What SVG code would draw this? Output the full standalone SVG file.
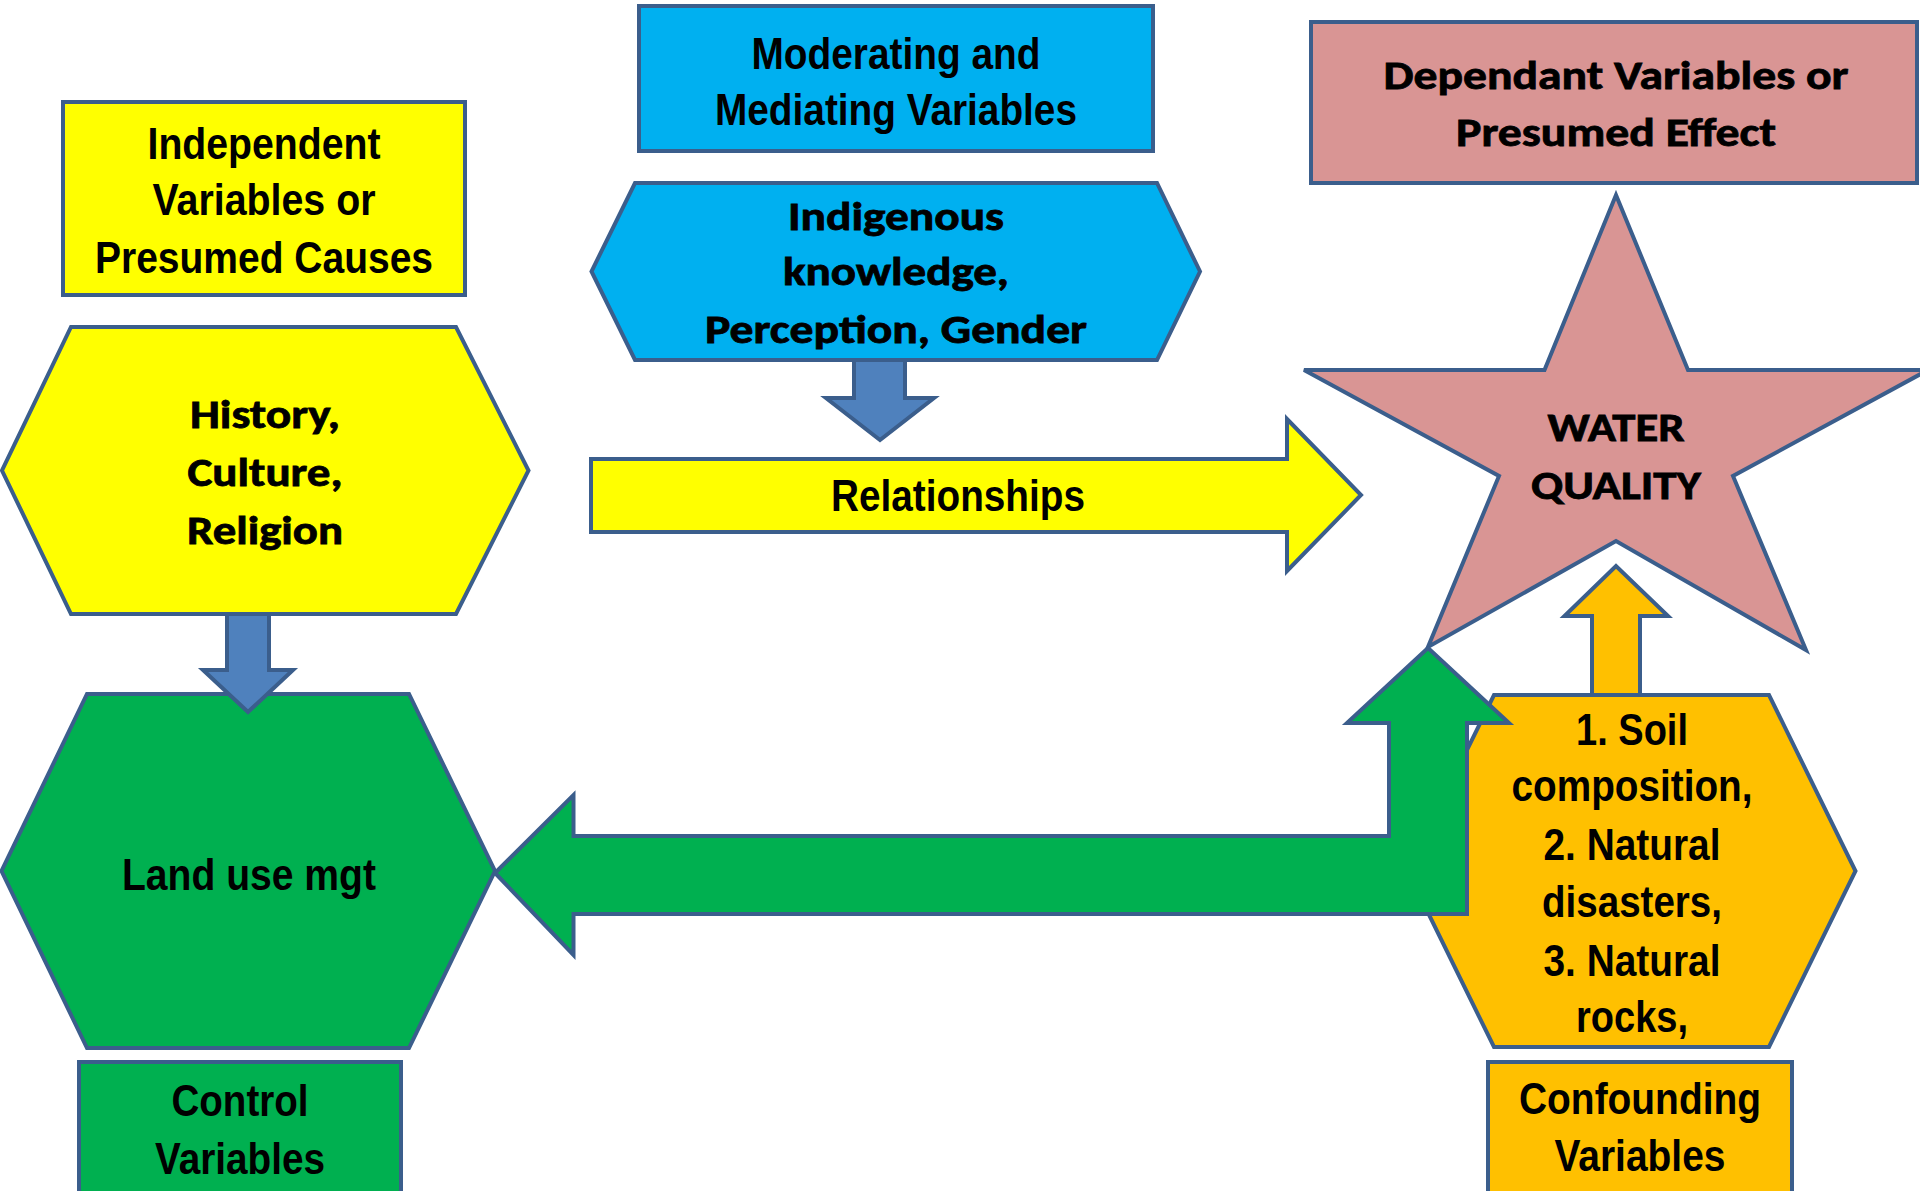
<svg xmlns="http://www.w3.org/2000/svg" width="1920" height="1191" viewBox="0 0 1920 1191">
<defs>
<style>
.sh{stroke:#3B5E8C;stroke-width:4;stroke-linejoin:miter}
.yel{fill:#FFFF00}
.blu{fill:#00B0F0}
.grn{fill:#00B050}
.org{fill:#FFC000}
.pnk{fill:#D99594}
.arw{fill:#4F81BD}
.nar{font-family:"Liberation Sans Narrow","Liberation Sans",Arial,sans-serif;font-weight:bold;font-size:45px;fill:#000;text-anchor:middle}
.cal{font-family:Carlito,Lato,"Open Sans",sans-serif;font-weight:bold;font-size:41px;fill:#000;stroke:#000;stroke-width:0.8;text-anchor:middle}
</style>
</defs>
<rect width="1920" height="1191" fill="#FFFFFF"/>
<g id="nodes">
<g id="independent-label">
<rect class="sh yel" x="63" y="102" width="402" height="193"/>
<text class="nar" x="264" y="159" textLength="233" lengthAdjust="spacingAndGlyphs">Independent</text>
<text class="nar" x="264" y="215" textLength="223" lengthAdjust="spacingAndGlyphs">Variables or</text>
<text class="nar" x="264" y="273" textLength="338" lengthAdjust="spacingAndGlyphs">Presumed Causes</text>
</g>
<g id="history">
<polygon class="sh yel" points="71,327 456,327 528.5,470.5 456,614 71,614 2,470.5"/>
<text class="cal" x="265" y="428" textLength="150" lengthAdjust="spacingAndGlyphs">History,</text>
<text class="cal" x="265" y="486" textLength="155" lengthAdjust="spacingAndGlyphs">Culture,</text>
<text class="cal" x="265" y="544" textLength="156" lengthAdjust="spacingAndGlyphs">Religion</text>
</g>
<g id="moderating-label">
<rect class="sh blu" x="639" y="6" width="514" height="145"/>
<text class="nar" x="896" y="69" textLength="289" lengthAdjust="spacingAndGlyphs">Moderating and</text>
<text class="nar" x="896" y="125" textLength="362" lengthAdjust="spacingAndGlyphs">Mediating Variables</text>
</g>
<g id="indigenous">
<polygon class="sh blu" points="635,183 1157,183 1200,271.5 1157,360 635,360 591.5,271.5"/>
<text class="cal" x="896" y="230" font-size="42" textLength="216" lengthAdjust="spacingAndGlyphs">Indigenous</text>
<text class="cal" x="896" y="285" font-size="42" textLength="226" lengthAdjust="spacingAndGlyphs">knowledge,</text>
<text class="cal" x="896" y="343" font-size="42" textLength="382" lengthAdjust="spacingAndGlyphs">Perception, Gender</text>
</g>
<g id="dependant-label">
<rect class="sh pnk" x="1311" y="22" width="606" height="161"/>
<text class="cal" x="1616" y="89" font-size="44" textLength="465" lengthAdjust="spacingAndGlyphs">Dependant Variables or</text>
<text class="cal" x="1616" y="146" font-size="44" textLength="320" lengthAdjust="spacingAndGlyphs">Presumed Effect</text>
</g>
<g id="water-quality">
<polygon class="sh pnk" points="1616,195 1688,370 1928,370 1733,476 1806,650 1616,541 1428,647 1499,476 1304,370 1544.5,370"/>
<text class="cal" x="1616" y="441" textLength="137" lengthAdjust="spacingAndGlyphs">WATER</text>
<text class="cal" x="1616" y="499" textLength="170" lengthAdjust="spacingAndGlyphs">QUALITY</text>
</g>
<g id="land-use">
<polygon class="sh grn" points="87,694 409,694 495,871 409,1048 87,1048 1.5,871"/>
<text class="nar" x="249" y="890" textLength="254" lengthAdjust="spacingAndGlyphs">Land use mgt</text>
</g>
<g id="control-label">
<rect class="sh grn" x="79" y="1062" width="322" height="140"/>
<text class="nar" x="240" y="1116" textLength="137" lengthAdjust="spacingAndGlyphs">Control</text>
<text class="nar" x="240" y="1174" textLength="170" lengthAdjust="spacingAndGlyphs">Variables</text>
</g>
<g id="confounders">
<polygon class="sh org" points="1494,695 1769,695 1855.5,871 1769,1047 1494,1047 1407.5,871"/>
<text class="nar" x="1632" y="745" textLength="112" lengthAdjust="spacingAndGlyphs">1. Soil</text>
<text class="nar" x="1632" y="801" textLength="241" lengthAdjust="spacingAndGlyphs">composition,</text>
<text class="nar" x="1632" y="860" textLength="177" lengthAdjust="spacingAndGlyphs">2. Natural</text>
<text class="nar" x="1632" y="917" textLength="180" lengthAdjust="spacingAndGlyphs">disasters,</text>
<text class="nar" x="1632" y="976" textLength="177" lengthAdjust="spacingAndGlyphs">3. Natural</text>
<text class="nar" x="1632" y="1032" textLength="112" lengthAdjust="spacingAndGlyphs">rocks,</text>
</g>
<g id="confounding-label">
<rect class="sh org" x="1488" y="1062" width="304" height="140"/>
<text class="nar" x="1640" y="1114" textLength="242" lengthAdjust="spacingAndGlyphs">Confounding</text>
<text class="nar" x="1640" y="1171" textLength="171" lengthAdjust="spacingAndGlyphs">Variables</text>
</g>
</g>
<g id="connectors">
<polygon id="arrow-mod" class="sh arw" points="854,360 905,360 905,398 934,398 880,440 826,398 854,398"/>
<polygon id="arrow-hist" class="sh arw" points="227,614 269,614 269,670 293,670 248,712 203,670 227,670"/>
<g id="relationships">
<polygon class="sh yel" points="591,459 1287,459 1287,419 1361,495 1287,571 1287,532 591,532"/>
<text class="nar" x="958" y="511" font-size="43" textLength="254" lengthAdjust="spacingAndGlyphs">Relationships</text>
</g>
<polygon id="arrow-conf" class="sh org" points="1592,695 1592,616 1564.5,616 1616,566 1668,616 1640,616 1640,695"/>
<polygon id="arrow-landuse" class="sh grn" points="495,873 573.5,795 573.5,836 1389,836 1389,723 1347,723 1428,648 1509,723 1467,723 1467,914 573.5,914 573.5,955"/>
</g>
</svg>
